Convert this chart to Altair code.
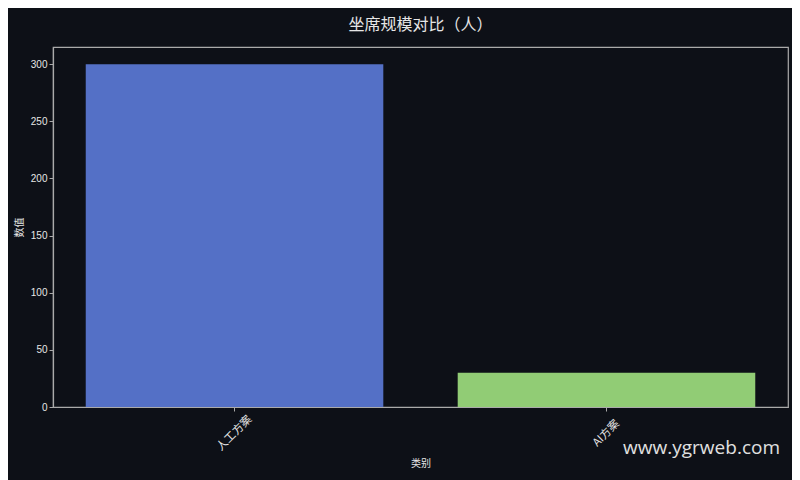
import altair as alt
import pandas as pd

categories = ["人工方案", "AI方案"]
values = [300, 30]
colors = ["#5470c6", "#91cc75"]

df = pd.DataFrame({"类别": categories, "数值": values, "color": colors})

bg = "#0d1017"
fg = "#e6e6e6"
frame = "#aaaaaa"

bars = alt.Chart(df).mark_bar().encode(
    x=alt.X("类别:N", sort=categories,
            scale=alt.Scale(paddingInner=0.2, paddingOuter=0.088),
            axis=alt.Axis(title="类别", labelAngle=-45, labelAlign="center",
                          labelBaseline="middle", labelPadding=22,
                          labelFontSize=11)),
    y=alt.Y("数值:Q", scale=alt.Scale(domain=[0, 315], nice=False),
            axis=alt.Axis(title="数值", values=[0, 50, 100, 150, 200, 250, 300],
                          grid=False)),
    color=alt.Color("color:N", scale=None),
)

mark_df = pd.DataFrame({"t": ["www.ygrweb.com"]})
watermark = alt.Chart(mark_df).mark_text(
    align="right", baseline="middle", fontSize=19, color="#e0e0e0",
    font="Open Sans"
).encode(text="t:N", x=alt.value(727), y=alt.value(401))

chart = alt.layer(bars, watermark).properties(
    width=735, height=360,
    background=bg,
    padding={"left": 45, "top": 39, "right": 4, "bottom": 73},
    autosize=alt.AutoSizeParams(type="none"),
    title=alt.TitleParams("坐席规模对比（人）", fontSize=16, color=fg,
                          font="Noto Sans CJK SC", fontWeight="normal",
                          anchor="middle", offset=14),
).configure_view(
    stroke=frame, strokeWidth=1.2, fill=bg
).configure_axis(
    domainColor=frame, tickColor=frame, labelColor=fg, titleColor=fg,
    labelFont="Liberation Sans", titleFont="Noto Sans CJK SC",
    labelFontSize=10, titleFontSize=10, titleFontWeight="normal",
    tickSize=4, domainWidth=1.2
).configure_axisX(
    labelFont="Noto Sans CJK SC", titlePadding=6
).configure_axisY(
    titlePadding=6
)

chart.save("out.html", embed_options={"renderer": "svg", "actions": False})
